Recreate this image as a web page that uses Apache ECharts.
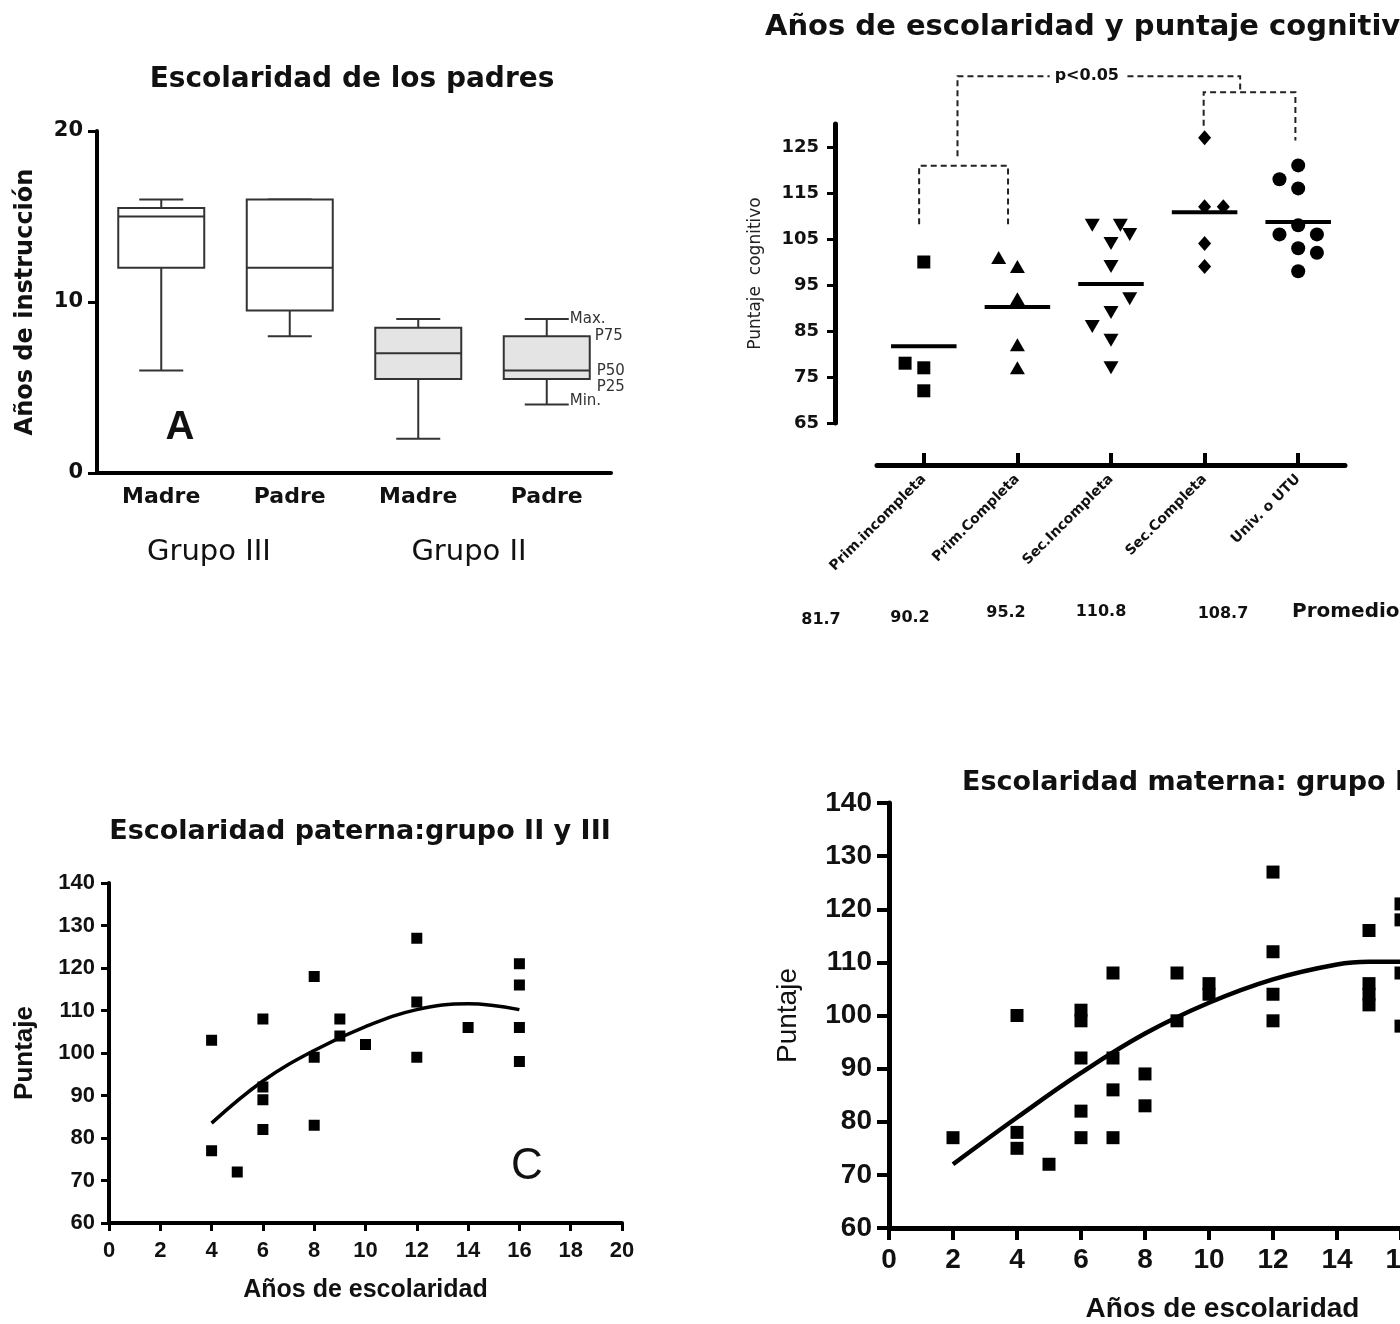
<!DOCTYPE html>
<html>
<head>
<meta charset="utf-8">
<script src="https://cdn.jsdelivr.net/npm/echarts@6/dist/echarts.min.js"></script>
<style>
  html, body { margin: 0; padding: 0; background: #fff; }
  #chart { width: 1400px; height: 1324px; }
</style>
</head>
<body>
<div id="chart"></div>
<script>
// --- A: escolaridad de los padres (box plot) ---
const boxCats = ['Madre', 'Padre', 'Madre', 'Padre'];
const boxGroups = ['Grupo III', 'Grupo II'];
const boxMin = [6, 8, 2, 4];
const boxQ1 = [12, 9.5, 5.5, 5.5];
const boxMed = [15, 12, 7, 6];
const boxQ3 = [15.5, 16, 8.5, 8];
const boxMax = [16, 16, 9, 9];
const boxKeyLabels = ['Max.', 'P75', 'P50', 'P25', 'Min.'];

// --- B: años de escolaridad y puntaje cognitivo ---
const eduCats = ['Prim.incompleta', 'Prim.Completa', 'Sec.Incompleta', 'Sec.Completa', 'Univ. o UTU'];
const eduMeans = [81.7, 90.2, 95.2, 110.8, 108.7];
const primIncVals = [100, 78, 77, 72];
const primIncSlots = [0, -1, 0, 0];
const primCompVals = [101, 99, 92, 82, 77];
const primCompSlots = [-1, 0, 0, 0, 0];
const secIncVals = [108, 108, 106, 104, 99, 92, 89, 86, 83, 77];
const secIncSlots = [-1, 0.5, 1, 0, 0, 1, 0, -1, 0, 0];
const secCompVals = [127, 112, 112, 104, 99];
const secCompSlots = [0, 0, 1, 0, 0];
const univVals = [121, 118, 116, 108, 106, 106, 103, 102, 98];
const univSlots = [0, -1, 0, 0, -1, 1, 0, 1, 0];
const yTicksB = [65, 75, 85, 95, 105, 115, 125];
// brackets: [x left, x right, left leg end, right leg end, top]
const brackets = [
  [-0.05, 0.9, 108.2, 108.2, 120.9],
  [2.99, 3.97, 129.6, 126.4, 136.9],
  [0.36, 3.38, 123, 136.9, 140.4]
];
const bracketTexts = ['', '', 'p<0.05'];

// --- C: escolaridad paterna ---
const patX = [4, 4, 5, 6, 6, 6, 6, 8, 8, 8, 9, 9, 10, 12, 12, 12, 14, 16, 16, 16, 16];
const patY = [103, 77, 72, 108, 92, 89, 82, 118, 99, 83, 108, 104, 102, 127, 112, 99, 106, 121, 116, 106, 98];
const patFitX = [4, 6, 8, 10, 12, 14, 16];
const patFitY = [83.5, 93.4, 100.6, 106.2, 110.2, 111.6, 110.2];

// --- D: escolaridad materna ---
const matX = [2, 4, 4, 4, 5, 6, 6, 6, 6, 6, 7, 7, 7, 7, 8, 8, 9, 9, 10, 10, 12, 12, 12, 12, 15, 15, 15, 15, 16, 16, 16, 16];
const matY = [77, 100, 78, 75, 72, 101, 99, 92, 82, 77, 108, 92, 86, 77, 89, 83, 108, 99, 106, 104, 127, 112, 104, 99, 116, 106, 104, 102, 121, 118, 108, 98];
const matFitX = [2, 4, 6, 8, 10, 12, 14, 15, 16];
const matFitY = [72, 80.8, 89.2, 96.6, 102.4, 106.8, 109.6, 110.1, 110.1];

const DJ = '"DejaVu Sans", sans-serif';
const LB = '"Liberation Sans", Arial, sans-serif';
const INK = '#111';

function txt(text, x, y, font, align, extra) {
  return {
    type: 'text', x: x, y: y, silent: true,
    style: Object.assign({ text: text, font: font, fill: INK, align: align || 'center', verticalAlign: 'middle' }, extra || {})
  };
}

function points(vals, slots, idx) {
  return vals.map((v, k) => [idx + slots[k] * 0.2, v]);
}

function axisLine(w) {
  return { show: true, onZero: false, lineStyle: { color: '#000', width: w } };
}

const dot = { color: '#000', opacity: 1 };

const chart = echarts.init(document.getElementById('chart'));

const option = {
  backgroundColor: '#fff',
  animation: false,
  grid: [
    { left: 97, top: 131, width: 514, height: 342, outerBoundsMode: 'none' },
    { left: 877, top: 124, width: 468, height: 299, outerBoundsMode: 'none' },
    { left: 109, top: 883, width: 513, height: 340, outerBoundsMode: 'none' },
    { left: 889, top: 803, width: 640, height: 425, outerBoundsMode: 'none' }
  ],
  xAxis: [
    {
      type: 'category', gridIndex: 0, data: boxCats,
      axisLine: axisLine(4), axisTick: { show: false },
      axisLabel: { margin: 13, fontFamily: DJ, fontWeight: 'bold', fontSize: 22, color: INK }
    },
    {
      type: 'category', gridIndex: 1, data: eduCats, offset: 42,
      axisLine: axisLine(5),
      axisTick: { show: true, inside: true, length: 12, alignWithLabel: true, lineStyle: { color: '#000', width: 4 } },
      axisLabel: { rotate: 45, interval: 0, margin: 12, fontFamily: DJ, fontWeight: 'bold', fontSize: 14, color: INK }
    },
    { type: 'value', gridIndex: 1, min: -0.5, max: 4.5, show: false },
    {
      type: 'value', gridIndex: 2, min: 0, max: 20, interval: 2,
      axisLine: axisLine(4), axisTick: { show: true, length: 8, lineStyle: { color: '#000', width: 3 } },
      splitLine: { show: false },
      axisLabel: { margin: 17, fontFamily: LB, fontWeight: 'bold', fontSize: 22, color: INK },
      name: 'Años de escolaridad', nameLocation: 'middle', nameGap: 55,
      nameTextStyle: { fontFamily: LB, fontWeight: 'bold', fontSize: 25, color: INK }
    },
    {
      type: 'value', gridIndex: 3, min: 0, max: 20, interval: 2,
      axisLine: axisLine(5), axisTick: { show: true, length: 12, lineStyle: { color: '#000', width: 4 } },
      splitLine: { show: false },
      axisLabel: { margin: 18, fontFamily: LB, fontWeight: 'bold', fontSize: 28, color: INK },
      name: 'Años de escolaridad', nameLocation: 'middle', nameGap: 67,
      nameTextStyle: { fontFamily: LB, fontWeight: 'bold', fontSize: 28, color: INK, padding: [0, 0, 0, 27] }
    }
  ],
  yAxis: [
    {
      type: 'value', gridIndex: 0, min: 0, max: 20, interval: 10,
      axisLine: axisLine(4), axisTick: { show: true, length: 9, lineStyle: { color: '#000', width: 3 } },
      splitLine: { show: false },
      axisLabel: { margin: 14, fontFamily: DJ, fontWeight: 'bold', fontSize: 21, color: INK },
      name: 'Años de instrucción', nameLocation: 'middle', nameGap: 59,
      nameTextStyle: { fontFamily: DJ, fontWeight: 'bold', fontSize: 24, color: INK }
    },
    {
      type: 'value', gridIndex: 1, min: 65, max: 130, offset: 42,
      axisLine: axisLine(5),
      axisTick: { show: true, length: 8, customValues: yTicksB, lineStyle: { color: '#000', width: 3 } },
      splitLine: { show: false },
      axisLabel: { customValues: yTicksB, margin: 16, fontFamily: DJ, fontWeight: 'bold', fontSize: 18, color: INK },
      name: 'Puntaje  cognitivo', nameLocation: 'middle', nameGap: 71,
      nameTextStyle: { fontFamily: DJ, fontSize: 17, color: '#222' }
    },
    {
      type: 'value', gridIndex: 2, min: 60, max: 140, interval: 10,
      axisLine: axisLine(4), axisTick: { show: true, length: 8, lineStyle: { color: '#000', width: 3 } },
      splitLine: { show: false },
      axisLabel: { margin: 14, fontFamily: LB, fontWeight: 'bold', fontSize: 22, color: INK },
      name: 'Puntaje', nameLocation: 'middle', nameGap: 71,
      nameTextStyle: { fontFamily: LB, fontWeight: 'bold', fontSize: 26, color: INK }
    },
    {
      type: 'value', gridIndex: 3, min: 60, max: 140, interval: 10,
      axisLine: axisLine(5), axisTick: { show: true, length: 12, lineStyle: { color: '#000', width: 4 } },
      splitLine: { show: false },
      axisLabel: { margin: 17, fontFamily: LB, fontWeight: 'bold', fontSize: 28, color: INK },
      name: 'Puntaje', nameLocation: 'middle', nameGap: 87,
      nameTextStyle: { fontFamily: LB, fontSize: 28, color: INK }
    }
  ],
  series: [
    // A: boxes
    {
      type: 'custom', xAxisIndex: 0, yAxisIndex: 0,
      data: boxCats.map((c, i) => [i, boxMin[i], boxQ1[i], boxMed[i], boxQ3[i], boxMax[i]]),
      encode: { x: 0, y: [1, 2, 3, 4, 5] },
      renderItem: function (params, api) {
        const i = api.value(0);
        const lo = api.coord([i, api.value(1)]);
        const q1 = api.coord([i, api.value(2)]);
        const md = api.coord([i, api.value(3)]);
        const q3 = api.coord([i, api.value(4)]);
        const hi = api.coord([i, api.value(5)]);
        const cx = lo[0], half = 43, cap = 22;
        const ls = { stroke: '#333', lineWidth: 2 };
        const kids = [
          { type: 'line', shape: { x1: cx, y1: q3[1], x2: cx, y2: hi[1] }, style: ls },
          { type: 'line', shape: { x1: cx, y1: q1[1], x2: cx, y2: lo[1] }, style: ls },
          { type: 'line', shape: { x1: cx - cap, y1: hi[1], x2: cx + cap, y2: hi[1] }, style: ls },
          { type: 'line', shape: { x1: cx - cap, y1: lo[1], x2: cx + cap, y2: lo[1] }, style: ls },
          {
            type: 'rect', shape: { x: cx - half, y: q3[1], width: half * 2, height: q1[1] - q3[1] },
            style: { fill: i >= 2 ? '#e4e4e4' : '#fff', stroke: '#333', lineWidth: 2 }
          },
          { type: 'line', shape: { x1: cx - half, y1: md[1], x2: cx + half, y2: md[1] }, style: ls }
        ];
        if (params.dataIndex === boxCats.length - 1) {
          const f = '15px ' + DJ;
          const ks = { font: f, fill: '#333', verticalAlign: 'middle', align: 'left' };
          kids.push({ type: 'text', x: cx + cap + 1, y: hi[1], style: Object.assign({ text: boxKeyLabels[0] }, ks) });
          kids.push({ type: 'text', x: cx + half + 5, y: q3[1], style: Object.assign({ text: boxKeyLabels[1] }, ks) });
          kids.push({ type: 'text', x: cx + half + 7, y: md[1] + 1, style: Object.assign({ text: boxKeyLabels[2] }, ks) });
          kids.push({ type: 'text', x: cx + half + 7, y: q1[1] + 8, style: Object.assign({ text: boxKeyLabels[3] }, ks) });
          kids.push({ type: 'text', x: cx + cap + 1, y: lo[1] - 3, style: Object.assign({ text: boxKeyLabels[4] }, ks) });
        }
        return { type: 'group', children: kids };
      }
    },
    // B: points
    {
      type: 'scatter', xAxisIndex: 2, yAxisIndex: 1, symbol: 'rect', symbolSize: 13,
      itemStyle: dot, data: points(primIncVals, primIncSlots, 0)
    },
    {
      type: 'scatter', xAxisIndex: 2, yAxisIndex: 1, symbol: 'triangle', symbolSize: [15, 13],
      itemStyle: dot, data: points(primCompVals, primCompSlots, 1)
    },
    {
      type: 'scatter', xAxisIndex: 2, yAxisIndex: 1, symbol: 'triangle', symbolRotate: 180, symbolSize: [15, 13],
      itemStyle: dot, data: points(secIncVals, secIncSlots, 2)
    },
    {
      type: 'scatter', xAxisIndex: 2, yAxisIndex: 1, symbol: 'diamond', symbolSize: [13, 15],
      itemStyle: dot, data: points(secCompVals, secCompSlots, 3)
    },
    {
      type: 'scatter', xAxisIndex: 2, yAxisIndex: 1, symbol: 'circle', symbolSize: 14,
      itemStyle: dot, data: points(univVals, univSlots, 4)
    },
    // B: mean lines
    {
      type: 'custom', xAxisIndex: 2, yAxisIndex: 1,
      data: eduMeans.map((m, i) => [i, m]),
      renderItem: function (params, api) {
        const i = api.value(0), m = api.value(1);
        const a = api.coord([i - 0.35, m]);
        const b = api.coord([i + 0.35, m]);
        return { type: 'line', shape: { x1: a[0], y1: a[1], x2: b[0], y2: b[1] }, style: { stroke: '#000', lineWidth: 4 } };
      }
    },
    // B: significance brackets
    {
      type: 'custom', xAxisIndex: 2, yAxisIndex: 1, clip: false,
      data: brackets,
      encode: { x: [0, 1], y: [2, 3, 4] },
      renderItem: function (params, api) {
        const x1 = api.value(0), x2 = api.value(1), top = api.value(4);
        const p1 = api.coord([x1, api.value(2)]);
        const p2 = api.coord([x1, top]);
        const p3 = api.coord([x2, top]);
        const p4 = api.coord([x2, api.value(3)]);
        const kids = [{
          type: 'polyline', shape: { points: [p1, p2, p3, p4] },
          style: { stroke: '#222', lineWidth: 2, lineDash: [6, 4], fill: null }
        }];
        const t = bracketTexts[params.dataIndex];
        if (t) {
          kids.push({
            type: 'text', x: (p2[0] + p3[0]) / 2 - 12, y: p2[1],
            style: { text: t, font: 'bold 16px ' + DJ, fill: INK, align: 'center', verticalAlign: 'middle',
                     backgroundColor: '#fff', padding: [0, 5] }
          });
        }
        return { type: 'group', children: kids };
      }
    },
    // C
    {
      type: 'scatter', xAxisIndex: 3, yAxisIndex: 2, symbol: 'rect', symbolSize: 11,
      itemStyle: dot, data: patX.map((x, i) => [x, patY[i]])
    },
    {
      type: 'line', xAxisIndex: 3, yAxisIndex: 2, smooth: 0.4, symbol: 'none',
      lineStyle: { color: '#000', width: 3.5 }, data: patFitX.map((x, i) => [x, patFitY[i]])
    },
    // D
    {
      type: 'scatter', xAxisIndex: 4, yAxisIndex: 3, symbol: 'rect', symbolSize: 13,
      itemStyle: dot, data: matX.map((x, i) => [x, matY[i]])
    },
    {
      type: 'line', xAxisIndex: 4, yAxisIndex: 3, smooth: 0.4, symbol: 'none',
      lineStyle: { color: '#000', width: 4.5 }, data: matFitX.map((x, i) => [x, matFitY[i]])
    }
  ],
  graphic: {
    elements: [
      txt('Escolaridad de los padres', 352, 80, 'bold 28px ' + DJ),
      txt(boxGroups[0], 209, 552, '29px ' + DJ),
      txt(boxGroups[1], 469, 552, '29px ' + DJ),
      txt('A', 180, 428, 'bold 40px ' + LB),
      txt('Años de escolaridad y puntaje cognitivo', 765, 27, 'bold 29px ' + DJ, 'left'),
      txt(eduMeans[0].toFixed(1), 821, 620, 'bold 16px ' + DJ),
      txt(eduMeans[1].toFixed(1), 910, 618, 'bold 16px ' + DJ),
      txt(eduMeans[2].toFixed(1), 1006, 613, 'bold 16px ' + DJ),
      txt(eduMeans[3].toFixed(1), 1101, 612, 'bold 16px ' + DJ),
      txt(eduMeans[4].toFixed(1), 1223, 614, 'bold 16px ' + DJ),
      txt('Promedio', 1292, 612, 'bold 20px ' + DJ, 'left'),
      txt('Escolaridad paterna:grupo II y III', 360, 832, 'bold 27px ' + DJ),
      txt('C', 527, 1167, '44px ' + LB),
      txt('Escolaridad materna: grupo II', 962, 783, 'bold 27px ' + DJ, 'left')
    ]
  }
};

chart.setOption(option);
</script>
</body>
</html>
